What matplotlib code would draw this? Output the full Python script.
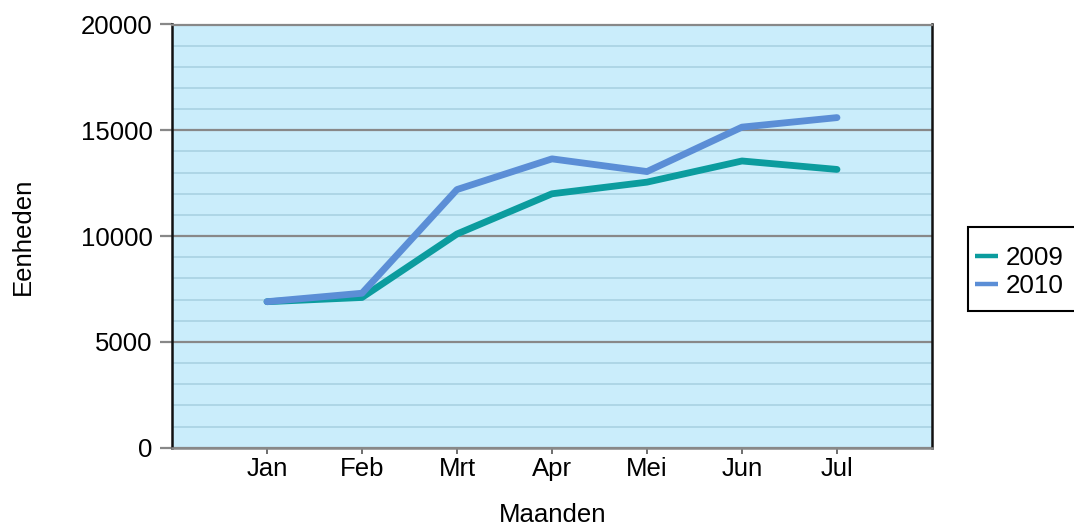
import matplotlib
matplotlib.use("Agg")
import matplotlib.pyplot as plt
from matplotlib.ticker import MultipleLocator, FixedLocator
from matplotlib.patches import Rectangle

months = ["Jan", "Feb", "Mrt", "Apr", "Mei", "Jun", "Jul"]
y2009 = [6900, 7100, 10100, 12000, 12550, 13550, 13150]
y2010 = [6900, 7300, 12200, 13650, 13050, 15150, 15600]
series_labels = ["2009", "2010"]

plt.rcParams['font.family'] = ['Liberation Sans', 'DejaVu Sans']

W, H = 1074, 526
fig = plt.figure(figsize=(W/100, H/100), dpi=100)
ax = fig.add_axes([172/W, 1-447.7/H, (932-172)/W, (447.7-24.5)/H])
ax.set_facecolor('#CAEDFB')

x = list(range(1, len(months)+1))
ax.plot(x, y2009, color='#0B9C9E', lw=4.9, solid_capstyle='round', solid_joinstyle='round', label=series_labels[0], zorder=3)
ax.plot(x, y2010, color='#5B8ED6', lw=4.9, solid_capstyle='round', solid_joinstyle='round', label=series_labels[1], zorder=4)

ax.set_xlim(0, 8)
ax.set_ylim(0, 20000)
ax.set_xticks(x)
ax.set_xticklabels(months)
ax.yaxis.set_major_locator(MultipleLocator(5000))
ax.yaxis.set_minor_locator(FixedLocator([v for v in range(1000, 20000, 1000) if v % 5000 != 0]))

ax.grid(True, which='major', axis='y', color='#888888', lw=1.6, zorder=1)
ax.grid(True, which='minor', axis='y', color='#A9D2E2', lw=1.2, zorder=1)
ax.set_axisbelow(True)

for s in ['left', 'right']:
    ax.spines[s].set_color('#111111')
    ax.spines[s].set_linewidth(1.8)
ax.spines['top'].set_color('#888888')
ax.spines['top'].set_linewidth(1.6)
ax.spines['bottom'].set_color('#888888')
ax.spines['bottom'].set_linewidth(1.8)

ax.tick_params(axis='y', which='major', direction='out', length=9, width=1.6, color='#888888', labelsize=18.5, pad=5)
ax.tick_params(axis='y', which='minor', length=0)
ax.tick_params(axis='x', which='major', direction='out', length=4, width=1.2, color='#555555', labelsize=18.5, pad=3)

fig.text(23/W, 1-236.5/H, 'Eenheden', rotation=90, ha='center', va='center', fontsize=18.5)
fig.text(553/W, 1-514.5/H, 'Maanden', ha='center', va='center', fontsize=18.5)

# legend frame (square black box, running to the right edge)
fig.patches.append(Rectangle((968/W, 1-311/H), (1080-968)/W, (311-226.7)/H,
                             transform=fig.transFigure, facecolor='white',
                             edgecolor='black', lw=1.5, zorder=5))
leg = fig.legend(loc='upper left', bbox_to_anchor=(959/W, 1-230.7/H), fontsize=18.7,
                 frameon=False, handlelength=0.9, handletextpad=0.3,
                 labelspacing=0.15, borderpad=0.6, borderaxespad=0)
leg.set_zorder(6)
for h in leg.get_lines():
    h.set_linewidth(3.2)
    h.set_solid_capstyle('butt')

fig.savefig('out.png', dpi=100)
